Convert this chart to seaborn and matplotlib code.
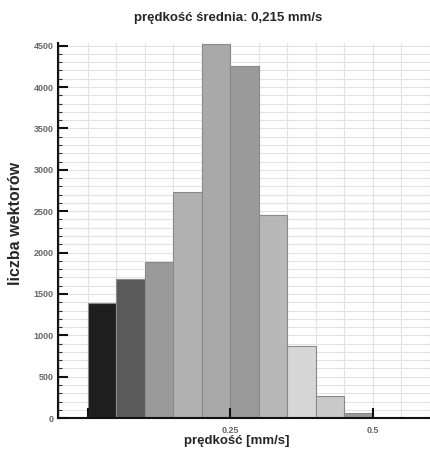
import matplotlib
matplotlib.use("Agg")
import matplotlib.pyplot as plt
import numpy as np
import seaborn as sns
from matplotlib.ticker import MultipleLocator

# %% data
bin_edges = [0.0, 0.05, 0.1, 0.15, 0.2, 0.25, 0.3, 0.35, 0.4, 0.45, 0.5]
counts = [1385, 1675, 1890, 2735, 4520, 4255, 2450, 870, 262, 60]
bar_colors = ["#1e1e1e", "#5a5a5a", "#9a9a9a", "#b1b1b1", "#a9a9a9",
              "#9a9a9a", "#b8b8b8", "#d6d6d6", "#c9c9c9", "#9a9a9a"]
title = "prędkość średnia: 0,215 mm/s"
xlabel = "prędkość [mm/s]"
ylabel = "liczba wektorów"

# %%
sns.set_style("white")
plt.rcParams["font.family"] = ["Liberation Sans Narrow", "Liberation Sans", "DejaVu Sans"]

fig = plt.figure(figsize=(4.3, 4.54), dpi=100)
rect = [0.135, 0.079, 0.865, 0.826]
xlim = (-0.0525, 0.6)
ylim = (0, 4530)

# background axes carrying only the grid, so ticks can sit on top of bars
bg = fig.add_axes(rect, zorder=0)
bg.set_xlim(xlim)
bg.set_ylim(ylim)
bg.xaxis.set_major_locator(MultipleLocator(0.05))
bg.yaxis.set_major_locator(MultipleLocator(100))
bg.grid(True, color="#e2e2e2", linewidth=0.8)
bg.tick_params(left=False, bottom=False, labelleft=False, labelbottom=False)
for s in bg.spines.values():
    s.set_visible(False)

ax = fig.add_axes(rect, zorder=1)
ax.patch.set_alpha(0)

centers = [(a + b) / 2 for a, b in zip(bin_edges[:-1], bin_edges[1:])]
sns.histplot(x=centers, weights=counts, bins=bin_edges, ax=ax,
             edgecolor="#8a8a8a", linewidth=0.8, alpha=1)
for patch, c in zip(ax.patches, bar_colors):
    patch.set_facecolor(c)

ax.set_xlim(xlim)
ax.set_ylim(ylim)
ax.grid(False)
ax.set_axisbelow(False)

ax.yaxis.set_major_locator(MultipleLocator(500))
ax.yaxis.set_minor_locator(MultipleLocator(100))
ax.set_xticks([0, 0.25, 0.5])
ax.set_xticklabels(["", "0.25", "0.5"])

for s in ["top", "right"]:
    ax.spines[s].set_visible(False)
for s in ["left", "bottom"]:
    ax.spines[s].set_color("#111111")
    ax.spines[s].set_linewidth(1.5)

ax.tick_params(axis="both", which="both", left=True, bottom=True)
ax.tick_params(axis="both", which="major", direction="in", length=7, width=1.5,
               color="#111111", labelsize=6.5, labelcolor="#666666")
ax.tick_params(axis="y", which="minor", direction="in", length=3, width=0.8,
               color="#333333")
ax.tick_params(axis="x", pad=6)
ax.tick_params(axis="y", pad=3)
for lab in ax.get_xticklabels() + ax.get_yticklabels():
    lab.set_fontweight("bold")

ax.set_xlabel(xlabel, fontsize=9.5, fontweight="bold")
ax.xaxis.set_label_coords(0.48, -0.045)
ax.set_ylabel(ylabel, fontsize=11.5, fontweight="bold")
ax.yaxis.set_label_coords(-0.095, 0.52)
fig.text(0.53, 0.96, title, ha="center", va="center", fontsize=9.5, fontweight="bold")

fig.savefig("out.png", dpi=100)
